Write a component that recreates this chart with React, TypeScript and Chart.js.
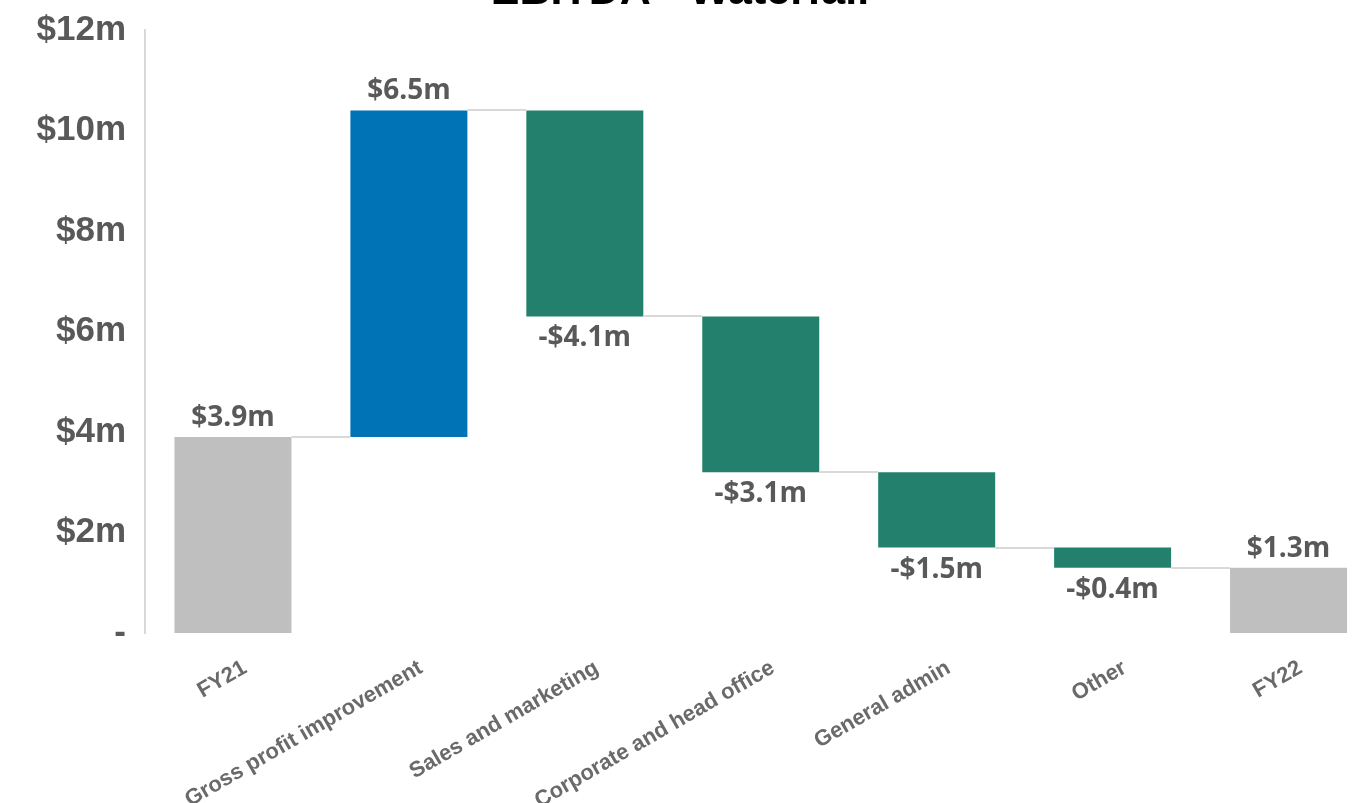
import React, { useEffect, useRef } from "react";
import { Chart, registerables } from "chart.js";

Chart.register(...registerables);

// ---- data ----
const titleText = "EBITDA - Waterfall";
const categories = [
  "FY21",
  "Gross profit improvement",
  "Sales and marketing",
  "Corporate and head office",
  "General admin",
  "Other",
  "FY22",
];
// change (or total) per category, $m
const amounts = [3.9, 6.5, -4.1, -3.1, -1.5, -0.4, 1.3];
const isTotal = [true, false, false, false, false, false, true];
const yMin = 0;
const yMax = 12;
const yStep = 2;

// ---- styles ----
const totalColor = "#bfbfbf";
const increaseColor = "#0073b6";
const decreaseColor = "#22806d";
const connectorColor = "#d9d9d9";
const labelColor = "#595959";
const axisLabelColor = "#6a6a6a";

function buildFloating() {
  const ranges: [number, number][] = [];
  const ends: number[] = [];
  let running = 0;
  amounts.forEach((v, i) => {
    if (isTotal[i]) {
      ranges.push([0, v]);
      running = v;
    } else {
      const start = running;
      running = Math.round((running + v) * 10) / 10;
      ranges.push([start, running]);
    }
    ends.push(running);
  });
  return { ranges, ends };
}

function fmt(v: number) {
  const s = "$" + Math.abs(v).toFixed(1) + "m";
  return v < 0 ? "-" + s : s;
}

export default function App() {
  const ref = useRef<HTMLCanvasElement | null>(null);

  useEffect(() => {
    if (!ref.current) return;
    const { ranges, ends } = buildFloating();
    const colors = amounts.map((v, i) =>
      isTotal[i] ? totalColor : v >= 0 ? increaseColor : decreaseColor
    );

    const titlePlugin = {
      id: "topTitle",
      afterDraw(chart: any) {
        const ctx = chart.ctx;
        ctx.save();
        ctx.font = "bold 43px 'Liberation Sans', Arial, sans-serif";
        ctx.fillStyle = "#000000";
        ctx.textAlign = "center";
        ctx.textBaseline = "alphabetic";
        ctx.fillText(titleText, 680, 4);
        ctx.restore();
      },
    };

    const connectorPlugin = {
      id: "connectors",
      afterDatasetsDraw(chart: any) {
        const ctx = chart.ctx;
        const meta = chart.getDatasetMeta(0);
        const yScale = chart.scales.y;
        ctx.save();
        ctx.strokeStyle = connectorColor;
        ctx.lineWidth = 2;
        for (let i = 0; i < meta.data.length - 1; i++) {
          const a = meta.data[i];
          const b = meta.data[i + 1];
          const y = Math.round(yScale.getPixelForValue(ends[i]));
          ctx.beginPath();
          ctx.moveTo(a.x + a.width / 2, y);
          ctx.lineTo(b.x - b.width / 2, y);
          ctx.stroke();
        }
        ctx.restore();
      },
    };

    const valueLabelPlugin = {
      id: "valueLabels",
      afterDatasetsDraw(chart: any) {
        const ctx = chart.ctx;
        const meta = chart.getDatasetMeta(0);
        ctx.save();
        ctx.font = "bold 28px 'Open Sans', sans-serif";
        ctx.fillStyle = labelColor;
        ctx.textAlign = "center";
        ctx.textBaseline = "middle";
        meta.data.forEach((el: any, i: number) => {
          const top = Math.min(el.y, el.base);
          const bottom = Math.max(el.y, el.base);
          const v = amounts[i];
          if (v >= 0) ctx.fillText(fmt(v), el.x, top - 19);
          else ctx.fillText(fmt(v), el.x, bottom + 22);
        });
        ctx.restore();
      },
    };

    const chart = new Chart(ref.current, {
      type: "bar",
      data: {
        labels: categories,
        datasets: [
          {
            data: ranges as any,
            backgroundColor: colors,
            borderWidth: 0,
            barPercentage: 0.665,
            categoryPercentage: 1,
          },
        ],
      },
      options: {
        responsive: false,
        animation: false,
        layout: { padding: { top: 30, right: 23.5, bottom: 0, left: 0 } },
        plugins: {
          legend: { display: false },
          tooltip: { enabled: false },
          title: { display: false },
        },
        scales: {
          x: {
            grid: { display: false, drawTicks: false },
            border: { display: false },
            ticks: {
              minRotation: 30,
              maxRotation: 30,
              padding: 22,
              labelOffset: 12,
              color: axisLabelColor,
              font: { family: "'Liberation Sans', Arial, sans-serif", size: 22, weight: "bold" },
              autoSkip: false,
            },
            afterFit(scale: any) {
              scale.height = 170;
            },
          },
          y: {
            min: yMin,
            max: yMax,
            grid: { display: false, drawTicks: false },
            border: { display: true, color: connectorColor, width: 2 },
            ticks: {
              stepSize: yStep,
              padding: 19,
              color: labelColor,
              font: { family: "'Liberation Sans', Arial, sans-serif", size: 35, weight: "bold" },
              callback: (v: any) => (Number(v) === 0 ? "-" : "$" + v + "m"),
            },
            afterFit(scale: any) {
              scale.width = 145;
              scale.paddingTop = 0;
              scale.paddingBottom = 0;
            },
          },
        },
      },
      plugins: [connectorPlugin, valueLabelPlugin, titlePlugin],
    });
    return () => chart.destroy();
  }, []);

  return (
    <div
      style={{
        position: "fixed",
        left: 0,
        top: 0,
        width: 1364,
        height: 803,
        overflow: "hidden",
        background: "#ffffff",
      }}
    >
      <canvas ref={ref} width={1400} height={803} style={{ display: "block" }} />
    </div>
  );
}
